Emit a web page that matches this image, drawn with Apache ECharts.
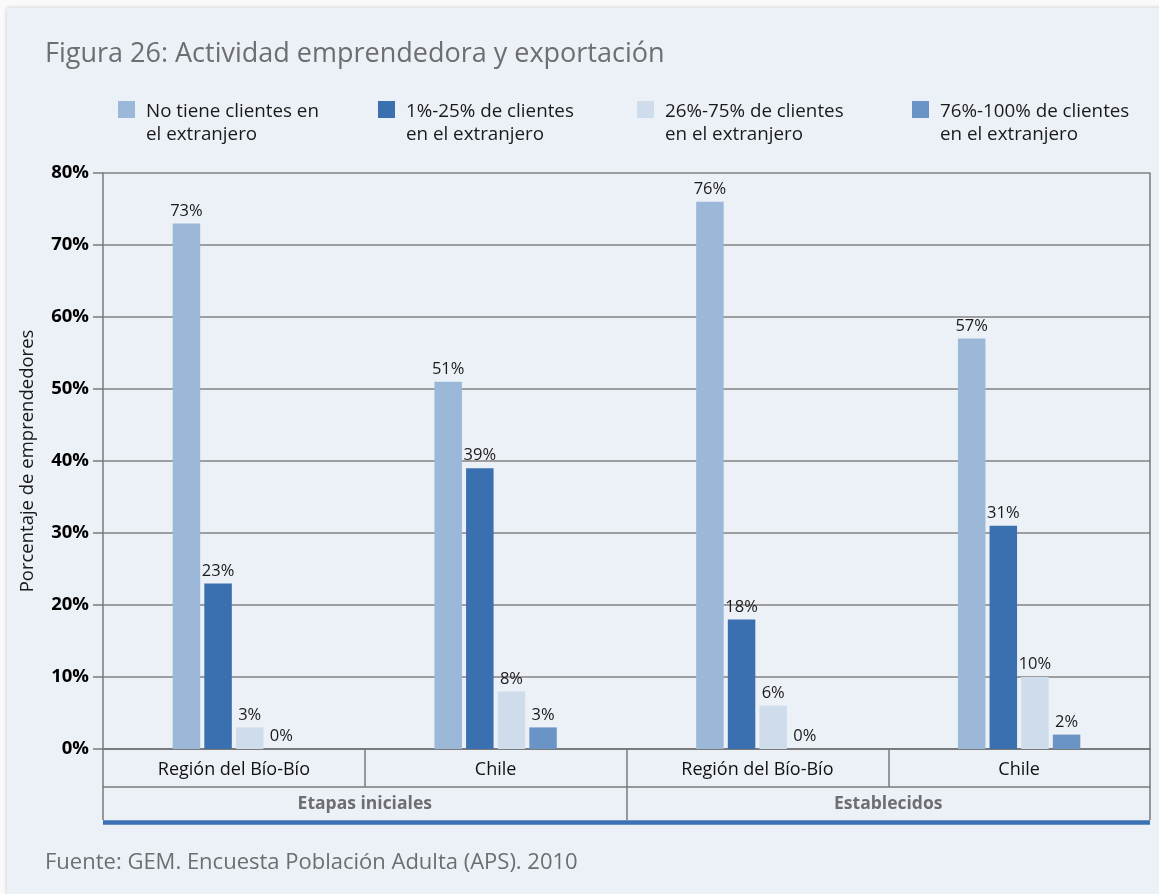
<!DOCTYPE html>
<html>
<head>
<meta charset="utf-8">
<script src="https://cdn.jsdelivr.net/npm/echarts@6/dist/echarts.min.js"></script>
<style>
  html, body { margin: 0; padding: 0; background: #fafafa; }
  #chart { width: 1159px; height: 894px; }
</style>
</head>
<body>
<div id="chart"></div>
<script>
// Categories: location within each stage, and the two stages
const categories = ['Región del Bío-Bío', 'Chile', 'Región del Bío-Bío', 'Chile'];
const stages = ['Etapas iniciales', 'Establecidos'];

// Series names (legend)
const seriesNames = [
  'No tiene clientes en\nel extranjero',
  '1%-25% de clientes\nen el extranjero',
  '26%-75% de clientes\nen el extranjero',
  '76%-100% de clientes\nen el extranjero'
];

// Percentage of entrepreneurs per export level
const noClients      = [73, 51, 76, 57];
const clients1to25   = [23, 39, 18, 31];
const clients26to75  = [3, 8, 6, 10];
const clients76to100 = [0, 3, 0, 2];

// Y axis ticks
const yMin = 0, yMax = 80, yStep = 10;

const FONT = '"Open Sans", "Noto Sans", sans-serif';
const colors = ['#9cb8d9', '#3a6fb0', '#cfdcec', '#6b94c6'];
const seriesData = [noClients, clients1to25, clients26to75, clients76to100];
const legendLeft = [118, 378, 637, 912];

// Legend swatch: a square sitting at the top of a tall, two-line item box
const SWATCH = 'path://M0,0M0,1L17,1L17,18L0,18ZM17,46';

const chart = echarts.init(document.getElementById('chart'), null, { renderer: 'canvas' });

const legends = seriesNames.map((name, i) => ({
  data: [{ name: name, icon: SWATCH }],
  left: legendLeft[i],
  top: 100,
  padding: 0,
  orient: 'horizontal',
  itemWidth: 17,
  itemHeight: 46,
  selectedMode: false,
  textStyle: {
    fontFamily: FONT,
    fontSize: 18.8,
    color: '#1a1a1a',
    lineHeight: 23,
    padding: [0, 0, 0, 6]
  }
}));

const series = seriesData.map((d, i) => ({
  name: seriesNames[i],
  type: 'bar',
  xAxisIndex: 0,
  yAxisIndex: 0,
  data: d,
  barWidth: 27.5,
  barGap: '15%',
  itemStyle: { color: colors[i] },
  label: {
    show: true,
    position: 'top',
    distance: 4,
    formatter: '{c}%',
    fontFamily: FONT,
    fontSize: 16.5,
    color: '#1a1a1a'
  }
}));

const option = {
  animation: false,
  backgroundColor: '#fafafa',
  color: colors,
  textStyle: { fontFamily: FONT },
  graphic: [{
    type: 'rect',
    z: -10,
    shape: { x: 7, y: 8, width: 1160, height: 900 },
    style: {
      fill: '#ecf0f7',
      shadowBlur: 4,
      shadowColor: 'rgba(0,0,0,0.22)'
    }
  }],
  title: [{
    text: 'Figura 26: Actividad emprendedora y exportación',
    left: 40,
    top: 36,
    textStyle: { fontFamily: FONT, fontSize: 27, fontWeight: 'normal', color: '#6d6e70' }
  }, {
    text: 'Fuente: GEM. Encuesta Población Adulta (APS). 2010',
    left: 40,
    top: 847,
    textStyle: { fontFamily: FONT, fontSize: 22, fontWeight: 'normal', color: '#6d6e70' }
  }],
  legend: legends,
  grid: { left: 103, right: 9, top: 173, bottom: 145, containLabel: false },
  xAxis: [{
    type: 'category',
    data: categories,
    position: 'bottom',
    axisLine: { show: true, onZero: false, lineStyle: { color: '#7a7a7a', width: 2 } },
    axisTick: { show: true, length: 38, interval: 0, lineStyle: { color: '#7a7a7a', width: 1.5 } },
    axisLabel: { margin: 12, fontFamily: FONT, fontSize: 18, color: '#111', interval: 0 },
    splitLine: { show: false }
  }, {
    type: 'category',
    data: stages,
    position: 'bottom',
    offset: 38,
    axisLine: { show: true, onZero: false, lineStyle: { color: '#7a7a7a', width: 1.5 } },
    axisTick: { show: true, length: 33, interval: 0, lineStyle: { color: '#7a7a7a', width: 1.5 } },
    axisLabel: { margin: 8, fontFamily: FONT, fontSize: 17.5, fontWeight: 'bold', color: '#6d6e70', interval: 0 },
    splitLine: { show: false }
  }, {
    type: 'category',
    data: [''],
    position: 'bottom',
    offset: 73,
    axisLine: { show: true, onZero: false, lineStyle: { color: '#3b70b5', width: 4.5, cap: 'butt' } },
    axisTick: { show: false },
    axisLabel: { show: false },
    splitLine: { show: false }
  }],
  yAxis: [{
    type: 'value',
    min: yMin,
    max: yMax,
    interval: yStep,
    name: 'Porcentaje de emprendedores',
    nameLocation: 'middle',
    nameRotate: 90,
    nameGap: 66,
    nameTextStyle: { fontFamily: FONT, fontSize: 18.5, color: '#1a1a1a' },
    axisLine: { show: true, lineStyle: { color: '#7a7a7a', width: 1.5 } },
    axisTick: { show: true, length: 10, lineStyle: { color: '#7a7a7a', width: 1.5 } },
    axisLabel: { margin: 14, fontFamily: FONT, fontSize: 18.5, fontWeight: 'bold', color: '#000', formatter: '{value}%' },
    splitLine: { show: true, lineStyle: { color: '#9e9e9e', width: 2 } }
  }, {
    type: 'value',
    min: yMin,
    max: yMax,
    interval: yStep,
    position: 'right',
    axisLine: { show: true, lineStyle: { color: '#7a7a7a', width: 1.5 } },
    axisTick: { show: false },
    axisLabel: { show: false },
    splitLine: { show: false }
  }],
  series: series
};

chart.setOption(option);
</script>
</body>
</html>
